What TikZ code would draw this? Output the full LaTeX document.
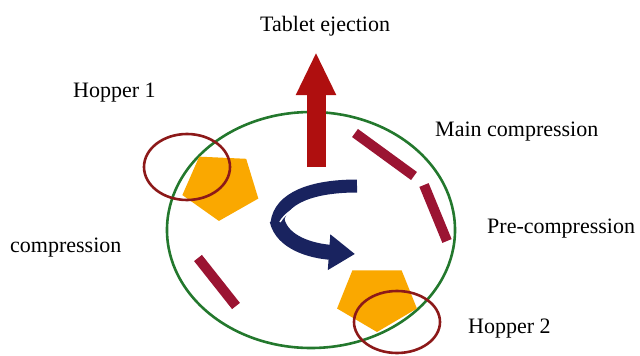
\documentclass[tikz,border=0pt]{standalone}
\usepackage{fontspec}
\setmainfont{Liberation Serif}
\usepackage{xcolor}
\usepackage{tikz}
\usetikzlibrary{arrows.meta}

\definecolor{ringgreen}{RGB}{35,120,45}
\definecolor{hopperred}{RGB}{140,25,25}
\definecolor{punchred}{RGB}{155,20,50}
\definecolor{ejectred}{RGB}{175,15,15}
\definecolor{tabletorange}{RGB}{250,168,0}
\definecolor{turnblue}{RGB}{25,35,95}

\begin{document}
\begin{tikzpicture}[
    x=1pt, y=-1pt,
    every node/.style={font=\rmfamily\fontsize{22}{24}\selectfont, inner sep=0pt, anchor=base west},
    ring/.style={draw=ringgreen, line width=2.6pt},
    hopper/.style={draw=hopperred, line width=2.6pt},
    punch/.style={punchred, line width=10pt},
    tablet/.style={fill=tabletorange},
]
\useasboundingbox (0,0) rectangle (640,356);

% === Die table ===
\draw[ring] (311,230) ellipse [x radius=144, y radius=118];

% === Tablets (y axis points down, so 90 is the bottom corner) ===
\fill[tablet] (221,186) +(93:40 and 35) -- +(165:40 and 35) -- +(237:40 and 35) -- +(309:40 and 35) -- +(21:40 and 35) -- cycle;
\fill[tablet] (377,298) +(90:42 and 34) -- +(162:42 and 34) -- +(234:42 and 34) -- +(306:42 and 34) -- +(18:42 and 34) -- cycle;

% === Hoppers ===
\draw[hopper] (187,167) ellipse [x radius=43, y radius=33];
\draw[hopper] (397,322) ellipse [x radius=43, y radius=31];

% === Punch rollers ===
\draw[punch] (355,133) -- (414,176);
\draw[punch] (424,185) -- (447,241);
\draw[punch] (198,258) -- (236,306);

% === Ejection arrow ===
\coordinate (ejectfoot) at (316,167);
\coordinate (ejecttip) at (316,52);
\draw[ejectred, line width=19pt, -{Triangle[length=43pt, width=37pt]}] (ejectfoot) -- (ejecttip);

% === Rotation arrow ===
\draw[turnblue, line width=13pt] (357,186) .. controls (312,186) and (280,198) .. (277,223);
\draw[turnblue, line width=15pt, -{Triangle[length=26pt, width=34pt]}] (277,220) .. controls (282,243) and (312,251) .. (355,254);
\draw[white, line width=1.5pt] (356,197) .. controls (318,197) and (290,205) .. (280,222);

% === Labels ===
\node (eject) at (260,31) {Tablet ejection};
\node (hopone) at (73,97) {Hopper 1};
\node (mainc) at (435,136) {Main compression};
\node (prec) at (487,233) {Pre-compression};
\node (comp) at (10,252) {compression};
\node (hoptwo) at (468,333) {Hopper 2};

\end{tikzpicture}
\end{document}
